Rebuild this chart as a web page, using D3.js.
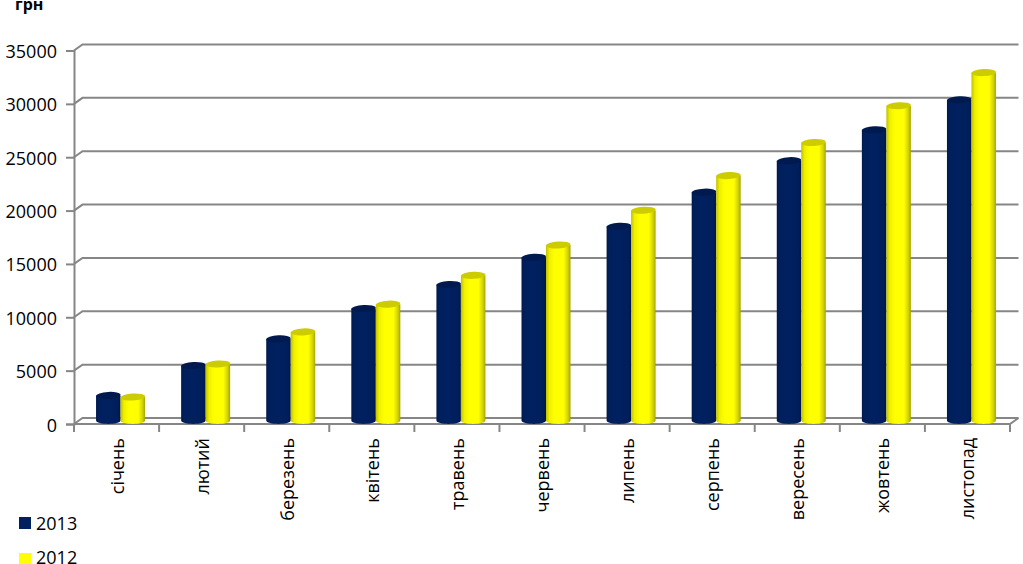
<!DOCTYPE html>
<html><head><meta charset="utf-8">
<script src="https://cdn.jsdelivr.net/npm/d3@7"></script>
<style>html,body{margin:0;padding:0;background:#fff;overflow:hidden}svg{display:block}text{font-family:"Open Sans",sans-serif;fill:#000}</style>
</head><body><svg id="c" width="1023" height="564"></svg>
<script>
const categories = ["січень","лютий","березень","квітень","травень","червень","липень","серпень","вересень","жовтень","листопад"];
const series2013 = [2350,5150,7650,10500,12750,15300,18200,21400,24350,27250,30050];
const series2012 = [2200,5300,8300,10900,13600,16450,19700,22950,26050,29500,32600];
const yTicks = [0,5000,10000,15000,20000,25000,30000,35000];
const legendNames = ["2013","2012"];
const unitLabel = "грн";

const svg = d3.select("#c");
const axL=74, axR=1010, axB=424, axT=50.5, dx=8.5, dy=6;
const y = d3.scaleLinear().domain([0,35000]).range([axB,axT]);
const x0 = d3.scaleBand().domain(categories).range([axL,axR]);
const x1 = d3.scaleBand().domain(legendNames).range([0,49]);
const defs = svg.append("defs");
function grad(id,stops){
  const g=defs.append("linearGradient").attr("id",id).attr("x1",0).attr("x2",1).attr("y1",0).attr("y2",0);
  stops.forEach(s=>g.append("stop").attr("offset",s[0]).attr("stop-color",s[1]));
}
grad("g2013",[[0,"#001a4e"],[.12,"#001f5c"],[.5,"#002060"],[.88,"#001e5a"],[1,"#00184a"]]);
grad("g2012",[[0,"#c0c000"],[.14,"#f0f000"],[.35,"#ffff00"],[.72,"#ffff00"],[.9,"#d0d000"],[1,"#a4a400"]]);
const grid="#868686";
const g=svg.append("g");
// gridlines on the walls
g.selectAll("path.grid").data(yTicks).join("path").attr("class","grid")
 .attr("fill","none").attr("stroke",grid).attr("stroke-width",2)
 .attr("d",d=>{const p=d3.path();p.moveTo(axL,y(d));p.lineTo(axL+dx,y(d)-dy);p.lineTo(axR+dx,y(d)-dy);return p.toString();});
// floor front edge + right edge
const fl=d3.path();fl.moveTo(axL,axB);fl.lineTo(axR,axB);fl.lineTo(axR+dx,axB-dy);
g.append("path").attr("d",fl.toString()).attr("fill","none").attr("stroke",grid).attr("stroke-width",2);
// y axis
const ya=g.append("g").attr("transform",`translate(${axL},0)`).call(d3.axisLeft(y).tickValues(yTicks).tickFormat(d3.format("d")).tickSize(8).tickPadding(9));
ya.selectAll("path").attr("stroke",grid).attr("stroke-width",2);
ya.selectAll("line").attr("stroke",grid).attr("stroke-width",2);
ya.selectAll("text").attr("font-size",18).attr("font-family",'"Open Sans",sans-serif').attr("fill","#000").attr("dy","0.39em");
// x ticks
g.selectAll("line.xt").data(d3.range(categories.length+1)).join("line").attr("class","xt")
 .attr("x1",i=>axL+i*x0.step()).attr("x2",i=>axL+i*x0.step()).attr("y1",axB).attr("y2",axB+8)
 .attr("stroke",grid).attr("stroke-width",2);
// cylinders
const rx=12.25, ry=3.5, base=axB-3.5;
const vy=d3.scaleLinear().domain([0,35000]).range([base,base-(axB-axT)]);
function cyl(vals,name,capColor){
  const off=x0.bandwidth()/2+4-24.5;
  const gs=g.append("g");
  categories.forEach((c,i)=>{
    const xl=x0(c)+off+x1(name), t=vy(vals[i]);
    const p=d3.path();
    p.moveTo(xl,t);p.lineTo(xl,base);
    p.bezierCurveTo(xl,base+ry*1.3,xl+2*rx,base+ry*1.3,xl+2*rx,base);
    p.lineTo(xl+2*rx,t);p.closePath();
    gs.append("path").attr("d",p).attr("fill",`url(#g${name})`);
    gs.append("ellipse").attr("cx",xl+rx).attr("cy",t).attr("rx",rx).attr("ry",ry)
      .attr("transform",`rotate(-3 ${xl+rx} ${t})`).attr("fill",capColor);
  });
}
cyl(series2013,"2013","#001a50");
cyl(series2012,"2012","#cccc00");
// category labels
g.selectAll("text.cat").data(categories).join("text").attr("class","cat")
 .attr("text-anchor","end").attr("font-size",18)
 .attr("transform",(d,i)=>`translate(${x0(d)+x0.bandwidth()/2+7},438) rotate(-90)`)
 .text(d=>d);
// legend
const lg=[[517,530],[553,563.5]];
const colors=["#002060","#ffff00"];
legendNames.forEach((n,i)=>{
  svg.append("rect").attr("x",19).attr("y",lg[i][0]).attr("width",12).attr("height",12).attr("fill",colors[i]);
  svg.append("text").attr("x",36).attr("y",lg[i][1]).attr("font-size",18).text(n);
});
svg.append("text").attr("x",15).attr("y",9.5).attr("font-size",16).attr("font-weight",700).text(unitLabel);
</script></body></html>
